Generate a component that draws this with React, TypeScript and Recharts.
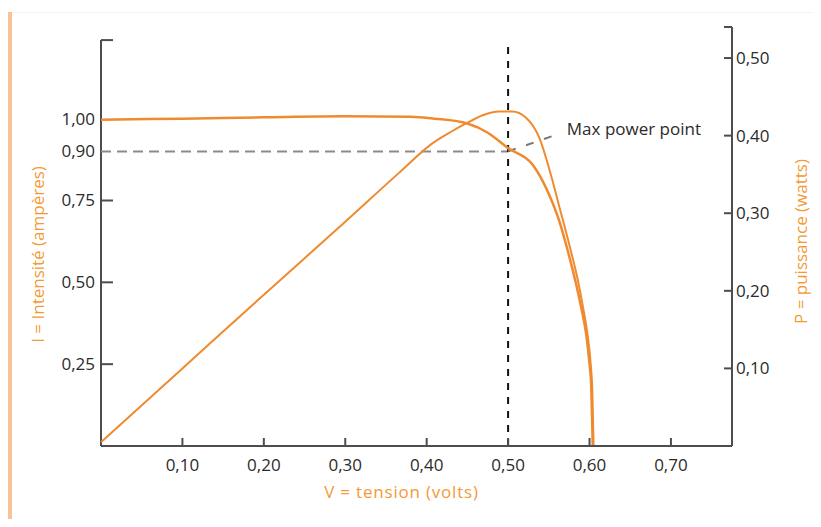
import React from 'react';
import {
  ComposedChart,
  Line,
  XAxis,
  YAxis,
  ReferenceLine,
  ReferenceDot,
  Label,
} from 'recharts';

// I-V curve of the cell: tension (V) -> intensité (A)
const ivTension = [0, 0.1, 0.2, 0.3, 0.38, 0.41, 0.45, 0.475, 0.5, 0.53, 0.55, 0.5625, 0.575, 0.583, 0.59, 0.596, 0.6, 0.602, 0.603, 0.604];
const ivIntensite = [0.997, 1.0, 1.004, 1.007, 1.006, 1.0, 0.985, 0.957, 0.91, 0.86, 0.77, 0.69, 0.58, 0.5, 0.42, 0.34, 0.25, 0.19, 0.1, 0];

// P-V curve: tension (V) -> puissance (W)
const pvTension = [0, 0.1, 0.2, 0.3, 0.366, 0.407, 0.43, 0.449, 0.468, 0.489, 0.505, 0.522, 0.538, 0.554, 0.5625, 0.575, 0.586, 0.592, 0.598, 0.6015, 0.6035, 0.605];
const pvPuissance = [0.005, 0.1, 0.195, 0.289, 0.352, 0.39, 0.405, 0.416, 0.426, 0.431, 0.431, 0.423, 0.398, 0.344, 0.31, 0.26, 0.212, 0.179, 0.14, 0.105, 0.07, 0];

const xTicks = [0.1, 0.2, 0.3, 0.4, 0.5, 0.6, 0.7];
const iTicks = [0.25, 0.5, 0.75, 0.9, 1.0, 1.24];
const pTicks = [0.1, 0.2, 0.3, 0.4, 0.5, 0.54];

const maxPowerV = 0.5;
const maxPowerI = 0.9;

const ivData = ivTension.map((v, k) => ({ v, i: ivIntensite[k] }));
const pvData = pvTension.map((v, k) => ({ v, p: pvPuissance[k] }));

const ORANGE = '#ef8a2e';
const LABEL_ORANGE = '#f39a35';
const AXIS = '#4d4d4d';
const TEXT = '#2b2b2b';
const FONT = '"Open Sans", sans-serif';
const FS = 17;

const fmt = (n: number) => n.toFixed(2).replace('.', ',');

function LeftTick({ x, y, payload }: any) {
  const v = payload.value;
  const top = v > 1.1;
  const mark = top || v < 0.8;
  return (
    <g>
      {mark && <line x1={x} x2={x + 12} y1={y} y2={y} stroke={AXIS} strokeWidth={2} />}
      {!top && (
        <text x={x - 6} y={y} dy={6} textAnchor="end" fill={TEXT} fontSize={FS} fontFamily={FONT}>
          {fmt(v)}
        </text>
      )}
    </g>
  );
}

function RightTick({ x, y, payload }: any) {
  const v = payload.value;
  const top = v > 0.52;
  return (
    <g>
      <line x1={x - 8} x2={x} y1={y} y2={y} stroke={AXIS} strokeWidth={2} />
      {!top && (
        <text x={x + 4} y={y} dy={6} textAnchor="start" fill={TEXT} fontSize={FS} fontFamily={FONT}>
          {fmt(v)}
        </text>
      )}
    </g>
  );
}

function BottomTick({ x, y, payload }: any) {
  return (
    <g>
      <line x1={x} x2={x} y1={y - 8} y2={y} stroke={AXIS} strokeWidth={2} />
      <text x={x} y={y} dy={25} textAnchor="middle" fill={TEXT} fontSize={FS} fontFamily={FONT}>
        {fmt(payload.value)}
      </text>
    </g>
  );
}

function LeftTitle({ viewBox }: any) {
  const x = viewBox.x - 4;
  const y = viewBox.y + viewBox.height / 2 + 18;
  return (
    <text x={x} y={y} transform={`rotate(-90 ${x} ${y})`} textAnchor="middle" dominantBaseline="central" fill={LABEL_ORANGE} fontSize={FS} fontFamily={FONT}>
      I = Intensité (ampères)
    </text>
  );
}

function RightTitle({ viewBox }: any) {
  const x = viewBox.x + 68;
  const y = viewBox.y + viewBox.height / 2 + 5;
  return (
    <text x={x} y={y} transform={`rotate(-90 ${x} ${y})`} textAnchor="middle" dominantBaseline="central" fill={LABEL_ORANGE} fontSize={FS} fontFamily={FONT}>
      P = puissance (watts)
    </text>
  );
}

function BottomTitle({ viewBox }: any) {
  return (
    <text x={viewBox.x + viewBox.width / 2 - 15} y={viewBox.y + 45} textAnchor="middle" dominantBaseline="central" fill={LABEL_ORANGE} fontSize={FS} letterSpacing={0.8} fontFamily={FONT}>
      V = tension (volts)
    </text>
  );
}

export default function App() {
  return (
    <div style={{ position: 'relative', width: 805, height: 511, fontFamily: FONT }}>
      <div style={{ position: 'absolute', left: -1, top: 4, width: 5, height: 515, background: '#f8c497' }} />
      <div style={{ position: 'absolute', left: 4, top: 4, width: 809, height: 1, background: '#fdf1e8' }} />
      <ComposedChart width={805} height={511} margin={{ top: 19, right: 21, left: 33, bottom: 43 }}>
        <XAxis
          type="number"
          dataKey="v"
          domain={[0, 0.775]}
          ticks={xTicks}
          tick={<BottomTick />}
          tickLine={false}
          tickSize={0}
          tickMargin={0}
          axisLine={{ stroke: AXIS, strokeWidth: 2 }}
          height={30}
          interval={0}
        >
          <Label content={<BottomTitle />} />
        </XAxis>
        <YAxis
          yAxisId="i"
          type="number"
          domain={[0, 1.28]}
          ticks={iTicks}
          tick={<LeftTick />}
          tickLine={false}
          tickSize={0}
          tickMargin={0}
          axisLine={false}
          width={60}
          interval={0}
        >
          <Label content={<LeftTitle />} />
        </YAxis>
        <YAxis
          yAxisId="p"
          orientation="right"
          type="number"
          domain={[0, 0.54]}
          ticks={pTicks}
          tick={<RightTick />}
          tickLine={false}
          tickSize={0}
          tickMargin={0}
          axisLine={{ stroke: AXIS, strokeWidth: 2 }}
          width={60}
          interval={0}
        >
          <Label content={<RightTitle />} />
        </YAxis>

        <ReferenceLine
          yAxisId="i"
          segment={[{ x: 0, y: 0 }, { x: 0, y: 1.24 }]}
          stroke={AXIS}
          strokeWidth={2}
        />
        <ReferenceLine
          yAxisId="i"
          segment={[{ x: 0, y: maxPowerI }, { x: maxPowerV, y: maxPowerI }]}
          stroke="#8a8a8a"
          strokeWidth={2}
          strokeDasharray="10 6"
        />
        <ReferenceLine
          yAxisId="i"
          segment={[{ x: maxPowerV, y: 0 }, { x: maxPowerV, y: 1.235 }]}
          stroke="#111"
          strokeWidth={2}
          strokeDasharray="7 7"
        />
        <ReferenceLine
          yAxisId="i"
          segment={[{ x: maxPowerV, y: maxPowerI }, { x: 0.564, y: 0.955 }]}
          stroke="#777"
          strokeWidth={2}
          strokeDasharray="8 11"
        />
        <ReferenceDot
          yAxisId="i"
          x={0.566}
          y={0.97}
          r={0}
          fill="none"
          stroke="none"
          label={{ value: 'Max power point', position: 'right', offset: 5, fill: TEXT, fontSize: FS, fontFamily: FONT }}
        />

        <Line
          yAxisId="i"
          data={ivData}
          dataKey="i"
          type="monotone"
          stroke={ORANGE}
          strokeWidth={2.5}
          dot={false}
          isAnimationActive={false}
        />
        <Line
          yAxisId="p"
          data={pvData}
          dataKey="p"
          type="monotone"
          stroke={ORANGE}
          strokeWidth={2}
          dot={false}
          isAnimationActive={false}
        />
      </ComposedChart>
    </div>
  );
}
